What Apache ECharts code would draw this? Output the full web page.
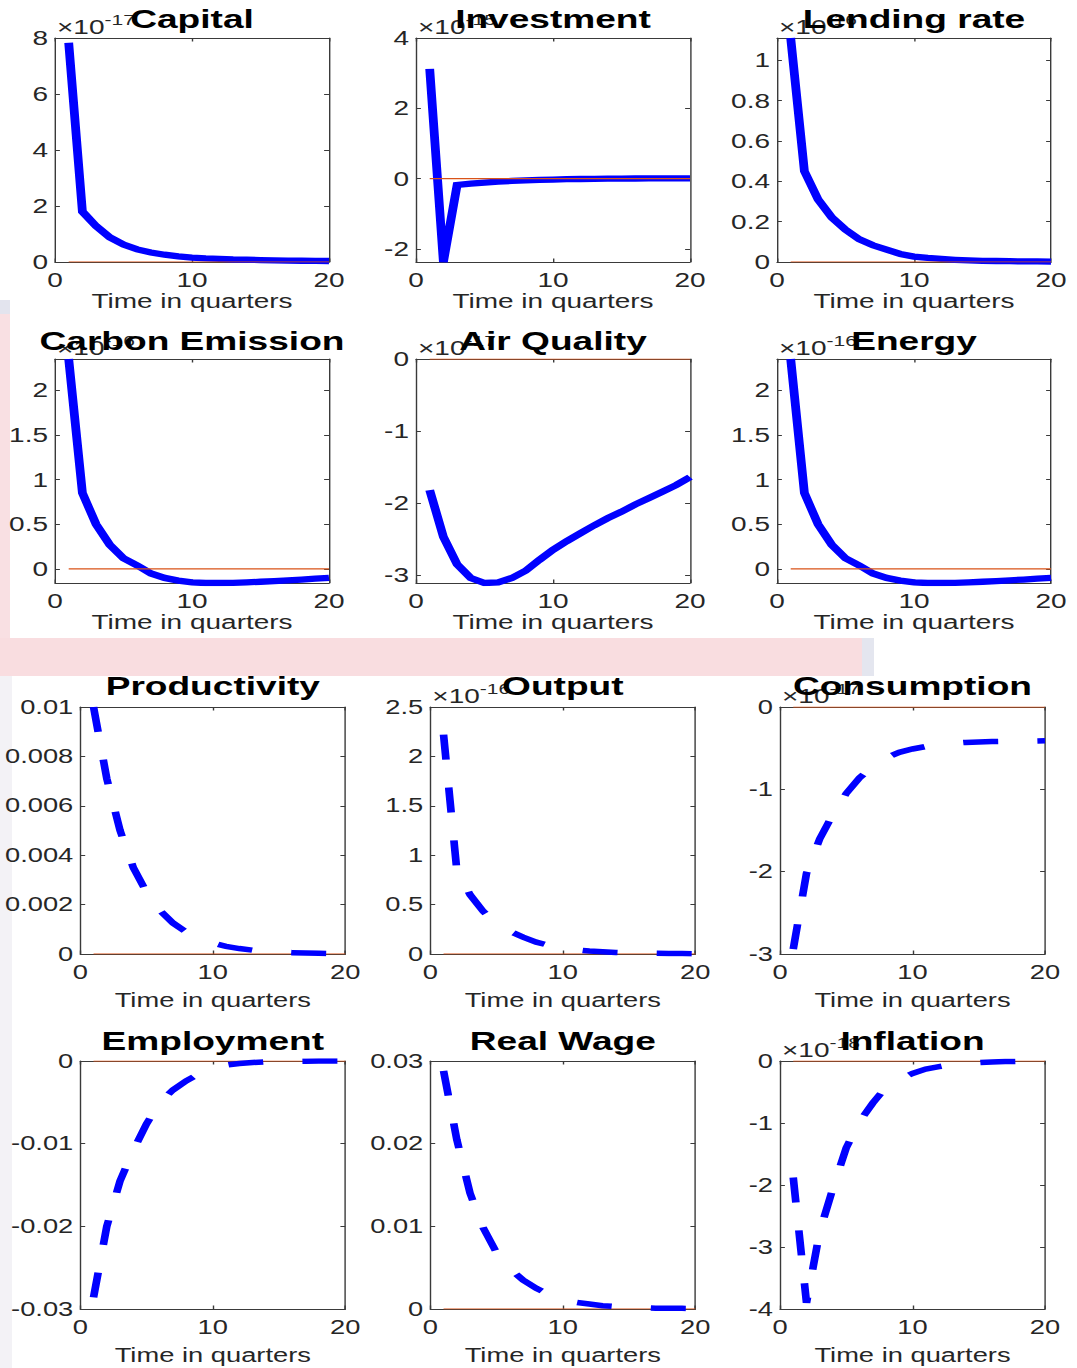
<!DOCTYPE html>
<html><head><meta charset="utf-8">
<script src="https://cdn.jsdelivr.net/npm/echarts@6/dist/echarts.min.js"></script>
<style>
html,body{margin:0;padding:0;background:#fff;overflow:hidden;}
#wrap{width:1077px;height:1368px;overflow:hidden;position:relative;background:#fff;}
#chart{width:770px;height:1368px;transform:scaleX(1.4);transform-origin:0 0;}
</style></head><body><div id="wrap"><div id="chart"></div></div>
<script>
// ---------- data ----------
const quarters = [1,2,3,4,5,6,7,8,9,10,11,12,13,14,15,16,17,18,19,20];
const steadyState = [0,0,0,0,0,0,0,0,0,0,0,0,0,0,0,0,0,0,0,0];
const xTicks = [0,10,20];
const xRange = [0,20];

const capital = [7.83,1.8,1.28,0.88,0.62,0.45,0.34,0.26,0.2,0.16,0.13,0.11,0.09,0.08,0.07,0.06,0.05,0.045,0.04,0.035];
const capitalTicks = [0,2,4,6,8];
const capitalRange = [0,8];

const investment = [3.12,-2.37,-0.18,-0.14,-0.11,-0.085,-0.065,-0.05,-0.035,-0.025,-0.015,-0.01,-0.005,0,0.003,0.005,0.007,0.008,0.009,0.01];
const investmentTicks = [-2,0,2,4];
const investmentRange = [-2.37,4];

const lendingRate = [1.11,0.45,0.31,0.22,0.16,0.113,0.083,0.061,0.04,0.027,0.02,0.015,0.011,0.008,0.006,0.005,0.004,0.003,0.003,0.002];
const lendingRateTicks = [0,0.2,0.4,0.6,0.8,1];
const lendingRateRange = [0,1.11];

const carbonEmission = [2.35,0.85,0.5,0.27,0.12,0.04,-0.05,-0.1,-0.13,-0.15,-0.157,-0.157,-0.155,-0.15,-0.143,-0.135,-0.127,-0.118,-0.109,-0.1];
const carbonEmissionTicks = [0,0.5,1,1.5,2];
const carbonEmissionRange = [-0.157,2.35];

const airQuality = [-1.82,-2.47,-2.85,-3.04,-3.11,-3.1,-3.04,-2.94,-2.79,-2.65,-2.53,-2.42,-2.31,-2.21,-2.12,-2.02,-1.93,-1.84,-1.75,-1.64];
const airQualityTicks = [-3,-2,-1,0];
const airQualityRange = [-3.11,0];

const energy = [2.35,0.85,0.5,0.27,0.12,0.04,-0.05,-0.1,-0.13,-0.15,-0.157,-0.157,-0.155,-0.15,-0.143,-0.135,-0.127,-0.118,-0.109,-0.1];
const energyTicks = [0,0.5,1,1.5,2];
const energyRange = [-0.157,2.35];

const productivity = [0.01,0.0071,0.005,0.0035,0.0025,0.00177,0.00125,0.00089,0.00063,0.00044,0.00031,0.00022,0.000156,0.00011,0.000078,0.000055,0.000039,0.000028,0.00002,0.000014];
const productivityTicks = [0,0.002,0.004,0.006,0.008,0.01];
const productivityRange = [0,0.01];

const output = [2.22,0.85,0.6,0.43,0.31,0.23,0.17,0.12,0.085,0.06,0.042,0.03,0.022,0.016,0.012,0.009,0.007,0.005,0.004,0.003];
const outputTicks = [0,0.5,1,1.5,2,2.5];
const outputRange = [0,2.5];

const consumption = [-2.94,-2.02,-1.6,-1.3,-1.05,-0.86,-0.72,-0.62,-0.55,-0.51,-0.48,-0.46,-0.44,-0.43,-0.425,-0.42,-0.418,-0.415,-0.413,-0.41];
const consumptionTicks = [-3,-2,-1,0];
const consumptionRange = [-3,0];

const employment = [-0.0286,-0.02,-0.0145,-0.0108,-0.0076,-0.005,-0.0035,-0.0024,-0.0015,-0.0009,-0.0005,-0.0003,-0.00018,-0.0001,-0.00006,-0.00004,-0.00002,-0.00001,0,0];
const employmentTicks = [-0.03,-0.02,-0.01,0];
const employmentRange = [-0.03,0];

const realWage = [0.0288,0.0205,0.014,0.0098,0.0068,0.0049,0.0035,0.0025,0.0017,0.0011,0.0008,0.0006,0.0004,0.0003,0.0002,0.00015,0.0001,0.0001,0.00008,0.00006];
const realWageTicks = [0,0.01,0.02,0.03];
const realWageRange = [0,0.03];

const inflation = [-1.88,-3.9,-2.75,-2.05,-1.4,-0.98,-0.68,-0.42,-0.3,-0.2,-0.13,-0.09,-0.06,-0.04,-0.025,-0.015,-0.01,-0.006,-0.004,-0.002];
const inflationTicks = [-4,-3,-2,-1,0];
const inflationRange = [-4,0];

const titles = ['Capital','Investment','Lending rate','Carbon Emission','Air Quality','Energy',
                'Productivity','Output','Consumption','Employment','Real Wage','Inflation'];
const exponents = ['-17','-15','-16','-16','-17','-16','','-16','-17','','','-18'];
const xAxisName = 'Time in quarters';

const seriesData = [capital,investment,lendingRate,carbonEmission,airQuality,energy,productivity,output,consumption,employment,realWage,inflation];
const tickData = [capitalTicks,investmentTicks,lendingRateTicks,carbonEmissionTicks,airQualityTicks,energyTicks,productivityTicks,outputTicks,consumptionTicks,employmentTicks,realWageTicks,inflationTicks];
const rangeData = [capitalRange,investmentRange,lendingRateRange,carbonEmissionRange,airQualityRange,energyRange,productivityRange,outputRange,consumptionRange,employmentRange,realWageRange,inflationRange];

// ---------- layout (reference pixel coords, horizontally compressed by SX) ----------
const SX = 1.4;
const FONT = "'Liberation Sans', Arial, Helvetica, sans-serif";
const topLefts = [55,416,777], topW = 274;
const botLefts = [80.3,430.3,780], botW = 265;
const rowTops = [38,359,707,1061];
const rowHeights = [224,224,247,248];
const titleBaselines = [28.3,350,695,1050];
const AXIS = '#3a3a3a', TXT = '#262626';

const measureCtx = document.createElement('canvas').getContext('2d');
function textWidth(t, fs){ measureCtx.font = fs + 'px ' + FONT; return measureCtx.measureText(t).width; }

const grid=[], xAxis=[], yAxis=[], series=[], title=[], graphic=[];

// background watermark bands
graphic.push({type:'rect', z:-10, shape:{x:0,y:300,width:10/SX,height:338}, style:{fill:'#f9e0e3'}});
graphic.push({type:'rect', z:-10, shape:{x:0,y:300,width:10/SX,height:14}, style:{fill:'#e3e4ee'}});
graphic.push({type:'rect', z:-10, shape:{x:0,y:638,width:862/SX,height:38}, style:{fill:'#f9dde0'}});
graphic.push({type:'rect', z:-10, shape:{x:862/SX,y:638,width:12/SX,height:38}, style:{fill:'#e4e6ef'}});
graphic.push({type:'rect', z:-10, shape:{x:0,y:676,width:12/SX,height:692}, style:{fill:'#f3f2f6'}});

titles.forEach((name,i)=>{
  const r = Math.floor(i/3), c = i%3;
  const lower = r >= 2;
  const leftRef = lower ? botLefts[c] : topLefts[c];
  const wRef = lower ? botW : topW;
  const top = rowTops[r], height = rowHeights[r];
  const fs = lower ? 19.5 : 20;
  grid.push({left:leftRef/SX, top:top, width:wRef/SX, height:height});

  const lineStyle = {color:AXIS, width:1};
  const common = {type:'value', gridIndex:i, min:xRange[0], max:xRange[1], splitLine:{show:false}};
  xAxis.push(Object.assign({}, common, {
    position:'bottom',
    axisLine:{show:true, onZero:false, lineStyle},
    axisTick:{show:true, inside:true, length:3.5, customValues:xTicks, lineStyle},
    axisLabel:{show:true, customValues:xTicks, fontSize:fs, color:TXT, fontFamily:FONT, margin:8.5},
    name:xAxisName, nameLocation:'middle', nameGap: lower ? 36.8 : 24.4,
    nameTextStyle:{fontSize:fs, color:TXT, fontFamily:FONT}
  }));
  xAxis.push(Object.assign({}, common, {
    position:'top',
    axisLine:{show:true, onZero:false, lineStyle},
    axisTick:{show:true, inside:true, length:3.5, customValues:xTicks, lineStyle},
    axisLabel:{show:false}
  }));
  const ycommon = {type:'value', gridIndex:i, min:rangeData[i][0], max:rangeData[i][1], splitLine:{show:false}};
  yAxis.push(Object.assign({}, ycommon, {
    position:'left',
    axisLine:{show:true, onZero:false, lineStyle},
    axisTick:{show:true, inside:true, length:3.5, customValues:tickData[i], lineStyle},
    axisLabel:{show:true, customValues:tickData[i], fontSize:fs, color:TXT, fontFamily:FONT, margin:5}
  }));
  yAxis.push(Object.assign({}, ycommon, {
    position:'right',
    axisLine:{show:true, onZero:false, lineStyle},
    axisTick:{show:true, inside:true, length:3.5, customValues:tickData[i], lineStyle},
    axisLabel:{show:false}
  }));

  series.push({
    type:'line', name:name, xAxisIndex:2*i, yAxisIndex:2*i,
    data: quarters.map((q,k)=>[q, seriesData[i][k]]),
    symbol:'none', showSymbol:false, silent:true, z: lower ? 4 : 2,
    lineStyle:{color:'#0000ff', width: lower ? 5.5 : 6.3, type: lower ? [25,28] : 'solid', cap:'butt', join:'miter'}
  });
  series.push({
    type:'line', name:name + ' steady state', xAxisIndex:2*i, yAxisIndex:2*i,
    data: quarters.map((q,k)=>[q, steadyState[k]]),
    symbol:'none', showSymbol:false, silent:true, z: 3,
    lineStyle:{color:'#d95319', width:1.2}
  });

  const tfs = 26.5;
  title.push({
    text:name, left:(leftRef + wRef/2)/SX, top: titleBaselines[r] - 0.8465*tfs,
    textAlign:'center', padding:0,
    textStyle:{fontSize:tfs, fontWeight:'bold', color:'#000', fontFamily:FONT}
  });

  if (exponents[i]) {
    const efs = 20, sfs = 15;
    const x0 = (leftRef + 2)/SX;
    const base = top - 4.5;
    const w = textWidth('\u00d710', efs);
    graphic.push({type:'text', z:5, x:x0, y: base - 0.3465*efs,
      style:{text:'\u00d710', fontSize:efs, fontFamily:FONT, fill:TXT, align:'left', verticalAlign:'middle'}});
    graphic.push({type:'text', z:5, x:x0 + w, y: base - 9 - 0.3465*sfs,
      style:{text:exponents[i], fontSize:sfs, fontFamily:FONT, fill:TXT, align:'left', verticalAlign:'middle'}});
  }
});

const chart = echarts.init(document.getElementById('chart'), null, {renderer:'svg'});
chart.setOption({
  backgroundColor:'transparent',
  animation:false,
  title, grid, xAxis, yAxis, series, graphic
});
</script></body></html>
